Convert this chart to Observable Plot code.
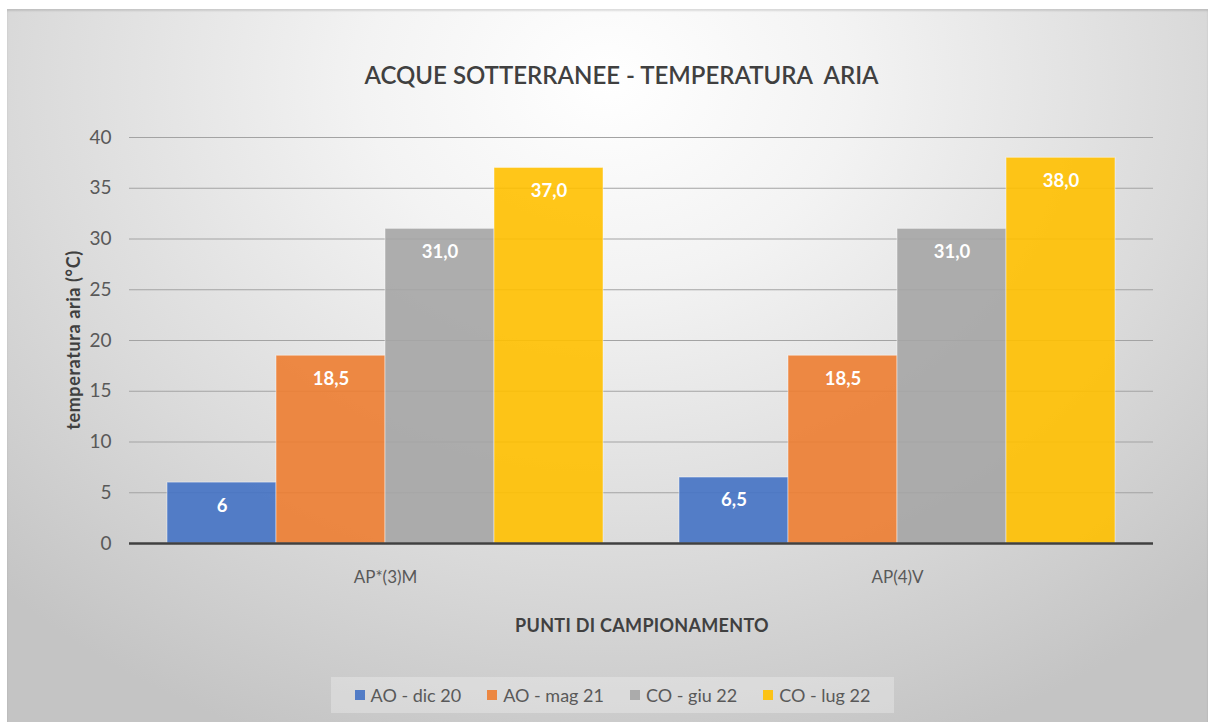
<!DOCTYPE html>
<html>
<head>
<meta charset="utf-8">
<script src="https://cdn.jsdelivr.net/npm/d3@7"></script>
<script src="https://cdn.jsdelivr.net/npm/@observablehq/plot@0.6"></script>
<style>
  html, body { margin: 0; padding: 0; background: #ffffff; }
  body { width: 1208px; height: 722px; overflow: hidden; position: relative; font-family: Lato, "Open Sans", "DejaVu Sans", sans-serif; }
  #panel {
    position: absolute; left: 7px; top: 9px; width: 1201px; height: 713px;
    background: radial-gradient(ellipse 72% 100% at 50% 10%, #ffffff 0%, #f3f3f3 28%, #dadada 68%, #c4c4c4 100%);
    box-shadow: inset 0 2px 2px rgba(0,0,0,0.12);
  }
  #title {
    position: absolute; left: 14px; top: 52px; width: 1201px; text-align: center;
    font-size: 24px; font-weight: 600; color: #404040; line-height: 28px; white-space: pre;
  }
  #ylabel {
    position: absolute; left: 66px; top: 331px; transform: translate(-50%, -50%) rotate(-90deg);
    font-size: 18px; font-weight: 700; color: #404040; white-space: nowrap; letter-spacing: 0.6px;
  }
  #xlabel {
    position: absolute; left: 0; width: 1270px; top: 605px; text-align: center;
    font-size: 18px; font-weight: 700; color: #404040; line-height: 22px; letter-spacing: 0.3px;
  }
  #chart { position: absolute; left: 0; top: 91px; }
  #chart svg > text { display: none; }
  #legend {
    position: absolute; left: 324px; top: 668px; width: 563px; height: 36px;
    background: rgba(255,255,255,0.28);
    display: flex; align-items: center; justify-content: center; gap: 26px;
    font-size: 18px; color: #595959;
  }
  .item { display: flex; align-items: center; white-space: nowrap; }
  .sw { width: 10px; height: 10px; margin-right: 6px; }
</style>
</head>
<body>
<div id="panel">
  <div id="title"></div>
  <div id="ylabel"></div>
  <div id="chart"></div>
  <div id="xlabel"></div>
  <div id="legend"></div>
</div>
<script>
// ---- data ----
const titleText = "ACQUE SOTTERRANEE - TEMPERATURA  ARIA";
const yTitle = "temperatura aria (°C)";
const xTitle = "PUNTI DI CAMPIONAMENTO";
const sites = ["AP*(3)M", "AP(4)V"];
const series = ["AO - dic 20", "AO - mag 21", "CO - giu 22", "CO - lug 22"];
const seriesColors = ["#4472C4", "#ED7D31", "#A5A5A5", "#FFC000"];
const valuesAP3M = [6, 18.5, 31, 37];
const valuesAP4V = [6.5, 18.5, 31, 38];
const labelsAP3M = ["6", "18,5", "31,0", "37,0"];
const labelsAP4V = ["6,5", "18,5", "31,0", "38,0"];
const yTicks = [0, 5, 10, 15, 20, 25, 30, 35, 40];

// ---- table ----
const valuesBySite = [valuesAP3M, valuesAP4V];
const labelsBySite = [labelsAP3M, labelsAP4V];
const rows = [];
sites.forEach((s, i) => series.forEach((k, j) => rows.push({site: s, series: k, value: valuesBySite[i][j], label: labelsBySite[i][j]})));

document.getElementById("title").textContent = titleText;
document.getElementById("ylabel").textContent = yTitle;
document.getElementById("xlabel").textContent = xTitle;

const chart = Plot.plot({
  width: 1201,
  height: 510,
  marginTop: 37,
  marginBottom: 67,
  marginLeft: 121,
  marginRight: 55,
  style: {background: "transparent", fontSize: "17px", fontFamily: "Lato, 'Open Sans', sans-serif", color: "#595959"},
  facet: {data: rows, x: "site"},
  fx: {domain: sites, padding: 0, axis: "bottom", tickSize: 0, tickPadding: 27, label: null},
  x: {domain: series, axis: null, paddingInner: 0, paddingOuter: 0.335},
  y: {domain: [0, 40], ticks: yTicks, tickSize: 0, tickPadding: 18, label: null, tickFormat: d => String(d)},
  color: {domain: series, range: seriesColors},
  marks: [
    Plot.ruleY(yTicks.filter(d => d > 0), {stroke: "#a3a3a3", strokeWidth: 1.2}),
    Plot.barY(rows, {x: "series", y: "value", fill: "series", fillOpacity: 0.9, stroke: "#ffffff", strokeOpacity: 0.45, strokeWidth: 1}),
    Plot.text(rows, {x: "series", y: "value", text: "label", dy: 23, fill: "#ffffff", fontWeight: "bold", fontSize: 18.5}),
    Plot.ruleY([0], {stroke: "#404040", strokeWidth: 2.5})
  ]
});
document.getElementById("chart").appendChild(chart);
d3.select(chart).selectAll('g[aria-label^="y-axis"] text').attr("font-size", 19);

// legend from the plot's color scale
const cs = chart.scale("color");
const legend = d3.select("#legend");
cs.domain.forEach((d, i) => {
  const it = legend.append("div").attr("class", "item");
  it.append("div").attr("class", "sw").style("background", cs.range[i]).style("opacity", 0.9);
  it.append("span").text(d);
});
</script>
</body>
</html>
